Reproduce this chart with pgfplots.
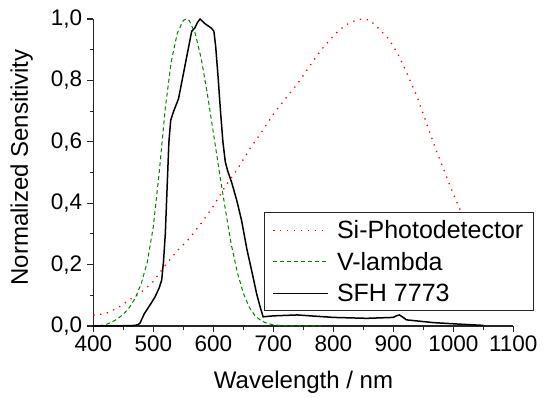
\documentclass[border=0pt]{standalone}
\usepackage{pgfplots}
\pgfplotsset{compat=1.18}
\usepackage{fontspec}
\setmainfont{Liberation Sans}
\definecolor{vgreen}{RGB}{0,128,0}
\definecolor{sired}{RGB}{255,0,0}
\begin{document}
\begin{tikzpicture}
\begin{axis}[
  scale only axis, width=420pt, height=307pt,
  xmin=400, xmax=1100, ymin=0, ymax=1,
  clip=false,
  axis lines=left,
  axis line style={-, line width=1.1pt, black!85},
  xtick={400,500,600,700,800,900,1000,1100}, minor x tick num=1,
  ytick={0,0.2,0.4,0.6,0.8,1.0}, minor y tick num=1,
  tick align=outside, major tick length=6pt, minor tick length=3.5pt,
  every tick/.style={line width=1.1pt, black!85},
  /pgf/number format/assume math mode=true,
  x tick label style={/pgf/number format/1000 sep={}, font=\fontsize{22.5}{24}\selectfont, inner sep=1pt, yshift=-3pt},
  y tick label style={/pgf/number format/.cd, use comma, fixed, fixed zerofill, precision=1, /tikz/.cd, font=\fontsize{22.5}{24}\selectfont, inner sep=1pt, xshift=-4pt},
  xlabel={Wavelength / nm},
  ylabel={Normalized Sensitivity},
  xlabel style={font=\fontsize{24}{26}\selectfont, at={(axis description cs:0.5005,-0.202)}, anchor=base},
  ylabel style={font=\fontsize{24}{26}\selectfont, at={(axis description cs:-0.1555,0.516)}, anchor=base, rotate=0},
  legend style={at={(0.4064,0.3713)}, anchor=north west, draw=black!85, line width=1.1pt,
    font=\fontsize{25}{27}\selectfont, inner xsep=8pt, inner ysep=6pt,
    nodes={inner sep=2pt}, row sep=8pt,
    /tikz/every odd column/.append style={column sep=6pt}},
  legend cell align=left,
  legend image code/.code={\draw[#1] (0pt,0pt) -- (55pt,0pt);},
]
\addplot[sired, line width=1.3pt, dash pattern=on 1.3pt off 5.6pt] coordinates {
(400,0.035) (420,0.040) (440,0.058) (460,0.085) (480,0.110) (500,0.145)
(520,0.198) (540,0.245) (560,0.285) (580,0.335) (600,0.390) (620,0.455)
(640,0.510) (660,0.575) (680,0.630) (700,0.690) (720,0.740) (740,0.788)
(760,0.845) (780,0.900) (800,0.945) (820,0.980) (840,0.998) (850,1.000)
(860,0.997) (870,0.980) (880,0.960) (890,0.940) (900,0.912) (910,0.877)
(920,0.835) (930,0.790) (940,0.745) (950,0.690) (960,0.635) (970,0.580)
(980,0.530) (990,0.480) (1000,0.430) (1010,0.385) (1013,0.372)
};
\addlegendentry{Si-Photodetector}
\addplot[vgreen, line width=1pt, dash pattern=on 4pt off 3pt] coordinates {
(410,0.0012) (420,0.004) (430,0.0116) (440,0.023) (450,0.038) (460,0.060)
(470,0.091) (480,0.139) (490,0.208) (500,0.323) (510,0.503) (520,0.710)
(530,0.862) (540,0.954) (550,0.995) (555,1.000) (560,0.995) (570,0.952)
(580,0.870) (590,0.757) (600,0.631) (610,0.503) (620,0.381) (630,0.265)
(640,0.175) (650,0.107) (660,0.061) (670,0.032) (680,0.017) (690,0.0082)
(700,0.0041) (710,0.0021) (720,0.00105) (740,0.00025) (780,0.0)
};
\addlegendentry{V-lambda}
\addplot[black, line width=1.5pt] coordinates {
(400,0) (460,0.001) (470,0.002) (475,0.005) (478,0.010) (485,0.040)
(490,0.055) (495,0.070) (503,0.095) (510,0.125) (514,0.150) (517,0.210)
(520,0.300) (523,0.450) (526,0.600) (529,0.670) (534,0.700) (542,0.740)
(550,0.820) (558,0.900) (564,0.960) (569,0.970) (574,0.990) (578,1.000)
(586,0.985) (597,0.970) (601,0.960) (604,0.910) (608,0.810) (612,0.700)
(616,0.600) (620,0.535) (624,0.505) (631,0.465) (639,0.410) (647,0.345)
(656,0.250) (664,0.180) (672,0.107) (678,0.063) (683,0.030) (700,0.033)
(740,0.036) (800,0.028) (856,0.025) (900,0.028) (905,0.033) (910,0.036)
(915,0.030) (922,0.020) (967,0.011) (1011,0.006) (1050,0.002)
};
\addlegendentry{SFH 7773}
\end{axis}
\pgfresetboundingbox
\path[use as bounding box] (-93.3pt,-71pt) rectangle (450.7pt,326pt);
\end{tikzpicture}
\end{document}
